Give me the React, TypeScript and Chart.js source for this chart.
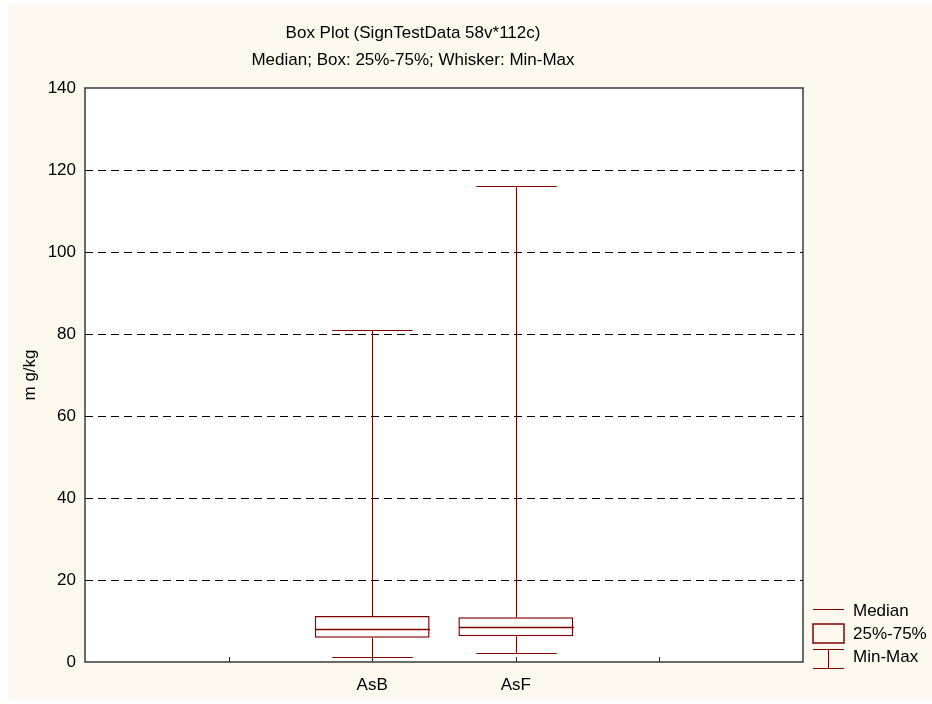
import React, { useEffect, useRef } from 'react';
import { Chart, registerables } from 'chart.js';

Chart.register(...registerables);

const categories = ['AsB', 'AsF'];
const categoryPositions = [2, 3];
const xTickValues = [1, 2, 3, 4];
const minValues = [1.2, 2.3];
const q1Values = [5.9, 6.3];
const medianValues = [8.1, 8.5];
const q3Values = [11.2, 10.9];
const maxValues = [80.9, 116.1];
const yTicks = [0, 20, 40, 60, 80, 100, 120, 140];
const titleText = 'Box Plot (SignTestData 58v*112c)';
const subtitleText = 'Median; Box: 25%-75%; Whisker: Min-Max';
const yAxisTitle = 'm g/kg';
const legendLabels = ['Median', '25%-75%', 'Min-Max'];

const FONT = '"Liberation Sans", Arial, sans-serif';
const FS = 17;
const RED = '#800000';
const CREAM = '#FDF9EE';
const BOX_RATIO = 0.8;
const CAP_RATIO = 0.56;

const boxPlugin = {
  id: 'boxDecor',
  beforeDraw(chart: any) {
    const { ctx, chartArea: a } = chart;
    ctx.save();
    ctx.fillStyle = CREAM;
    ctx.fillRect(0, 0, chart.width, chart.height);
    ctx.fillStyle = '#ffffff';
    ctx.fillRect(a.left, a.top, a.right - a.left, a.bottom - a.top);
    ctx.restore();
  },
  afterDatasetsDraw(chart: any) {
    const { ctx } = chart;
    const xs = chart.scales.x;
    const ys = chart.scales.y;
    const unit = xs.getPixelForValue(1) - xs.getPixelForValue(0);
    const capHalf = (unit * CAP_RATIO) / 2;
    const boxHalf = (unit * BOX_RATIO) / 2;
    ctx.save();
    ctx.strokeStyle = RED;
    categoryPositions.forEach((p, i) => {
      const cx = Math.round(xs.getPixelForValue(p)) + 0.5;
      const yMax = Math.round(ys.getPixelForValue(maxValues[i])) + 0.5;
      const yMin = Math.round(ys.getPixelForValue(minValues[i])) + 0.5;
      const yQ1 = ys.getPixelForValue(q1Values[i]);
      const yQ3 = ys.getPixelForValue(q3Values[i]);
      const yMed = Math.round(ys.getPixelForValue(medianValues[i])) + 0.5;
      ctx.lineWidth = 1;
      ctx.beginPath();
      ctx.moveTo(cx, yMax);
      ctx.lineTo(cx, yQ3);
      ctx.moveTo(cx, yQ1);
      ctx.lineTo(cx, yMin);
      ctx.moveTo(cx - capHalf, yMax);
      ctx.lineTo(cx + capHalf, yMax);
      ctx.moveTo(cx - capHalf, yMin);
      ctx.lineTo(cx + capHalf, yMin);
      ctx.stroke();
      ctx.lineWidth = 1.5;
      ctx.beginPath();
      ctx.moveTo(cx - boxHalf, yMed);
      ctx.lineTo(cx + boxHalf, yMed);
      ctx.stroke();
    });
    ctx.restore();
  },
  afterDraw(chart: any) {
    const { ctx, chartArea: a } = chart;
    const xs = chart.scales.x;
    ctx.save();
    ctx.setLineDash([]);
    // plot frame
    ctx.strokeStyle = '#3a3a3a';
    ctx.lineWidth = 1.5;
    ctx.strokeRect(a.left, a.top, a.right - a.left, a.bottom - a.top);
    // inward tick marks on the x axis
    ctx.lineWidth = 1;
    ctx.strokeStyle = '#222';
    ctx.beginPath();
    xTickValues.forEach((v) => {
      const px = Math.round(xs.getPixelForValue(v)) + 0.5;
      ctx.moveTo(px, a.bottom);
      ctx.lineTo(px, a.bottom - 5);
    });
    ctx.stroke();
    // titles
    ctx.fillStyle = '#000';
    ctx.font = `${FS}px ${FONT}`;
    ctx.textAlign = 'center';
    ctx.textBaseline = 'middle';
    ctx.fillText(titleText, 405, 29);
    ctx.fillText(subtitleText, 405, 56);
    // legend
    const lx0 = 805;
    const lx1 = 836;
    ctx.strokeStyle = RED;
    ctx.lineWidth = 1;
    ctx.beginPath();
    ctx.moveTo(lx0, 605.5);
    ctx.lineTo(lx1, 605.5);
    ctx.stroke();
    ctx.lineWidth = 1.5;
    ctx.strokeRect(lx0, 620, lx1 - lx0, 19);
    ctx.lineWidth = 1;
    ctx.beginPath();
    ctx.moveTo(lx0, 645.5);
    ctx.lineTo(lx1, 645.5);
    ctx.moveTo(lx0, 664.5);
    ctx.lineTo(lx1, 664.5);
    ctx.moveTo(820.5, 645.5);
    ctx.lineTo(820.5, 664.5);
    ctx.stroke();
    ctx.fillStyle = '#000';
    ctx.textAlign = 'left';
    ctx.fillText(legendLabels[0], 845, 607);
    ctx.fillText(legendLabels[1], 845, 630);
    ctx.fillText(legendLabels[2], 845, 653);
    ctx.restore();
  },
};

export default function App() {
  const ref = useRef<HTMLCanvasElement>(null);
  useEffect(() => {
    const chart = new Chart(ref.current as HTMLCanvasElement, {
      type: 'bar',
      data: {
        datasets: [
          {
            data: categoryPositions.map((p, i) => ({ x: p, y: [q1Values[i], q3Values[i]] })) as any,
            backgroundColor: '#ffffff',
            borderColor: RED,
            borderWidth: 1.5,
            borderSkipped: false,
            barPercentage: BOX_RATIO,
            categoryPercentage: 1,
          },
        ],
      },
      options: {
        responsive: false,
        animation: false,
        layout: { padding: { top: 84, right: 129, left: 0, bottom: 0 } },
        plugins: {
          legend: { display: false },
          title: { display: false },
          tooltip: { enabled: false },
        },
        scales: {
          x: {
            type: 'linear',
            min: 0,
            max: 5,
            offset: false,
            grid: { display: false, drawTicks: false },
            border: { display: false },
            afterBuildTicks: (s: any) => {
              s.ticks = xTickValues.map((v) => ({ value: v }));
            },
            afterFit: (s: any) => {
              s.height = 38;
            },
            ticks: {
              autoSkip: false,
              maxRotation: 0,
              padding: 13,
              color: '#000',
              font: { family: FONT, size: FS },
              callback: (v: any) => {
                const i = categoryPositions.indexOf(Number(v));
                return i >= 0 ? categories[i] : '';
              },
            },
          },
          y: {
            min: 0,
            max: 140,
            grid: {
              color: (c: any) =>
                c.tick && (c.tick.value === 0 || c.tick.value === 140) ? 'rgba(0,0,0,0)' : '#000',
              lineWidth: 1,
              drawTicks: false,
            },
            border: { display: false, dash: [8, 5] },
            afterBuildTicks: (s: any) => {
              s.ticks = yTicks.map((v) => ({ value: v }));
            },
            afterFit: (s: any) => {
              s.width = 77;
            },
            ticks: { padding: 9, color: '#000', font: { family: FONT, size: FS } },
            title: {
              display: true,
              text: yAxisTitle,
              color: '#000',
              font: { family: FONT, size: FS },
              padding: { top: 12, bottom: 0 },
            },
          },
        },
      } as any,
      plugins: [boxPlugin],
    });
    return () => chart.destroy();
  }, []);
  return (
    <div style={{ position: 'absolute', left: 8, top: 4, width: 924, height: 696, background: CREAM }}>
      <canvas ref={ref} width={924} height={696} style={{ display: 'block', width: 924, height: 696 }} />
    </div>
  );
}
